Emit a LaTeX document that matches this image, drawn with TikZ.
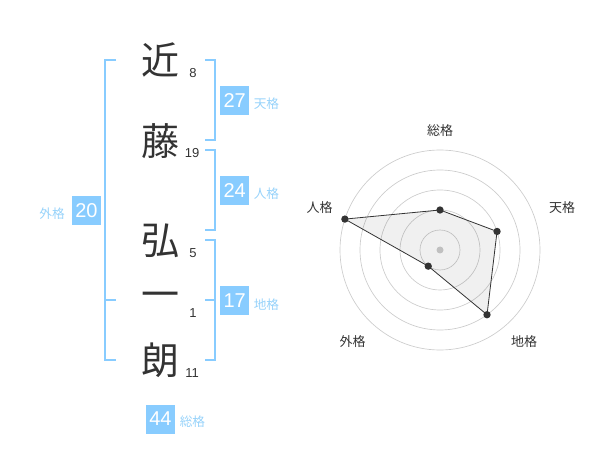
\documentclass[tikz,border=0pt]{standalone}
\usepackage{fontspec}
\setmainfont{Liberation Sans}
\newfontfamily\jpfont{Noto Sans CJK JP}
\usepackage{xcolor}
\usepackage{tikz}
\definecolor{kakublue}{RGB}{136,204,255}
\definecolor{kakulabel}{RGB}{150,210,250}
\definecolor{inkgray}{RGB}{51,51,51}
\definecolor{ringgray}{RGB}{204,204,204}

\begin{document}
\begin{tikzpicture}[x=0.75pt,y=-0.75pt,
  kanji/.style={text=inkgray,inner sep=0pt,font=\jpfont\fontsize{28.5}{30}\selectfont},
  strokes/.style={text=inkgray,inner sep=0pt,font=\fontsize{9.75}{11}\selectfont},
  kakubox/.style={fill=kakublue,text=white,minimum width=21.75pt,minimum height=21.75pt,inner sep=0pt,font=\fontsize{15}{16}\selectfont},
  kakuname/.style={text=kakulabel,inner sep=0pt,font=\jpfont\fontsize{9.5}{11}\selectfont},
  bracket/.style={draw=kakublue,line width=1.5pt},
  ring/.style={draw=ringgray,line width=0.5pt},
  axisname/.style={text=inkgray,inner sep=0pt,font=\jpfont\fontsize{9.75}{11}\selectfont},
  dot/.style={circle,fill=inkgray,inner sep=0pt,minimum size=5.5pt}]
\useasboundingbox (0,0) rectangle (600,470);

% Name characters
\node [kanji] (k1) at (160,60) {近};
\node [kanji] (k2) at (160,141) {藤};
\node [kanji] (k3) at (160,241) {弘};
\node [kanji] (k4) at (160,300) {一};
\node [kanji] (k5) at (160,360) {朗};

% Stroke counts
\node [strokes] (s1) at (193,73) {8};
\node [strokes] (s2) at (192,153) {19};
\node [strokes] (s3) at (193,253) {5};
\node [strokes] (s4) at (193,313) {1};
\node [strokes] (s5) at (192,373) {11};

% Brackets
\draw [bracket] (116,60) -- (105,60) -- (105,360) -- (116,360) ;
\draw [bracket] (105,300) -- (116,300) ;
\draw [bracket] (205,60) -- (215,60) -- (215,140) -- (205,140) ;
\draw [bracket] (205,150) -- (215,150) -- (215,230) -- (205,230) ;
\draw [bracket] (205,240) -- (215,240) -- (215,360) -- (205,360) ;
\draw [bracket] (205,300) -- (215,300) ;

% Result boxes
\node [kakubox] (ten) at (234.7,100.5) {27};
\node [kakuname, anchor=west] (tenl) at (253.5,104) {天格};
\node [kakubox] (jin) at (234.7,190.5) {24};
\node [kakuname, anchor=west] (jinl) at (253.5,194) {人格};
\node [kakubox] (chi) at (234.7,300.3) {17};
\node [kakuname, anchor=west] (chil) at (253.5,305) {地格};
\node [kakubox] (gai) at (86.5,210.3) {20};
\node [kakuname, anchor=east] (gail) at (65,213.5) {外格};
\node [kakubox] (sou) at (160.5,419) {44};
\node [kakuname, anchor=west] (soul) at (179.5,422) {総格};

% Radar rings
\foreach \r in {20,40,60,80,100}
  \draw [ring] (440,250) circle [radius=\r];
\fill [ringgray] (440,250) circle [radius=3.5];

% Radar values
\coordinate (rsou) at (440,210);
\coordinate (rten) at (497.06,231.46);
\coordinate (rchi) at (487.02,314.72);
\coordinate (rgai) at (428.24,266.18);
\coordinate (rjin) at (344.89,219.10);
\draw [draw=inkgray,line width=0.6pt,fill=black,fill opacity=0.06] (rsou) -- (rten) -- (rchi) -- (rgai) -- (rjin) -- cycle ;
\foreach \p in {rsou,rten,rchi,rgai,rjin}
  \node [dot] at (\p) {};

% Radar axis names
\node [axisname] (asou) at (440,130.5) {総格};
\node [axisname] (aten) at (562,208) {天格};
\node [axisname] (achi) at (524,341.5) {地格};
\node [axisname] (agai) at (352.5,341.5) {外格};
\node [axisname] (ajin) at (319.5,208) {人格};

\end{tikzpicture}
\end{document}
